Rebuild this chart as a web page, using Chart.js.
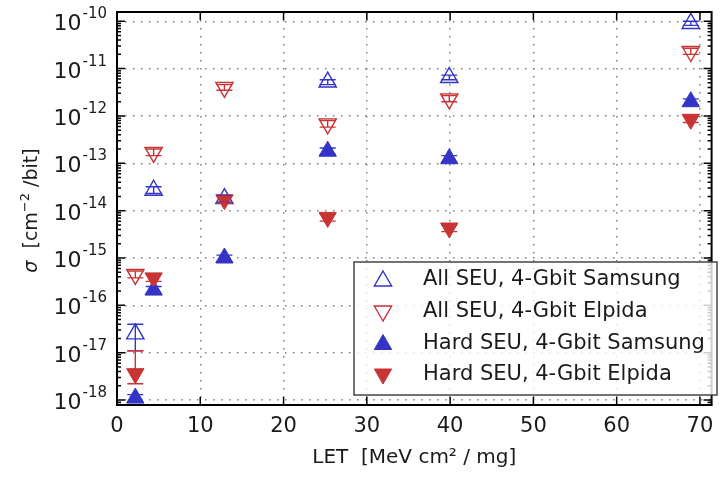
<!DOCTYPE html>
<html>
<head>
<meta charset="utf-8">
<script src="https://cdn.jsdelivr.net/npm/chart.js@4"></script>
<style>
  html, body { margin: 0; padding: 0; background: #fff; }
  #wrap { width: 723px; height: 482px; }
</style>
</head>
<body>
<div id="wrap"><canvas id="myChart"></canvas></div>
<script>
// LET values (MeV cm2 / mg)
const letValues = [2.2, 4.4, 12.9, 25.3, 39.9, 68.9];

// cross sections (cm^-2 / bit) and error bar bounds
const allSamsung   = [2.5e-17, 2.7e-14, 1.8e-14, 5.2e-12, 6.5e-12, 9.0e-11];
const allSamsungLo = [1.1e-17, 2.3e-14, 1.5e-14, 4.6e-12, 5.8e-12, 8.2e-11];
const allSamsungHi = [4.0e-17, 3.2e-14, 2.1e-14, 5.8e-12, 7.3e-12, 1.0e-10];

const allElpida   = [4.5e-16, 1.7e-13, 4.0e-12, 6.8e-13, 2.3e-12, 2.3e-11];
const allElpidaLo = [3.8e-16, 1.45e-13, 3.5e-12, 5.8e-13, 2.0e-12, 2.0e-11];
const allElpidaHi = [5.3e-16, 2.0e-13, 4.6e-12, 8.0e-13, 2.7e-12, 2.7e-11];

const hardSamsung   = [1.1e-18, 2.1e-16, 1.0e-15, 1.8e-13, 1.25e-13, 2.0e-12];
const hardSamsungLo = [0.9e-18, 1.8e-16, 0.85e-15, 1.55e-13, 1.05e-13, 1.7e-12];
const hardSamsungHi = [1.3e-18, 2.5e-16, 1.15e-15, 2.1e-13, 1.45e-13, 2.3e-12];

const hardElpida   = [3.6e-18, 3.8e-16, 1.7e-14, 7.2e-15, 4.3e-15, 8.5e-13];
const hardElpidaLo = [2.2e-18, 3.2e-16, 1.45e-14, 6.0e-15, 3.6e-15, 7.3e-13];
const hardElpidaHi = [1.1e-17, 4.5e-16, 2.0e-14, 8.5e-15, 5.0e-15, 1.0e-12];

const labels = [
  'All SEU, 4-Gbit Samsung',
  'All SEU, 4-Gbit Elpida',
  'Hard SEU, 4-Gbit Samsung',
  'Hard SEU, 4-Gbit Elpida'
];

const xTicks = [0, 10, 20, 30, 40, 50, 60, 70];
const yTickExps = [-18, -17, -16, -15, -14, -13, -12, -11, -10];

const BLUE = '#3434c6';
const RED = '#c83434';
const FONT = '"DejaVu Sans", sans-serif';

function pts(ys) {
  return letValues.map((x, i) => ({ x: x, y: ys[i] }));
}

function makeSet(label, ys, lo, hi, color, filled, down, order) {
  return {
    label: label,
    data: pts(ys),
    errLo: lo,
    errHi: hi,
    pointStyle: 'triangle',
    rotation: down ? 180 : 0,
    pointRadius: 10,
    pointHoverRadius: 10,
    borderColor: color,
    backgroundColor: filled ? color : 'rgba(0,0,0,0)',
    borderWidth: filled ? 1 : 1.4,
    showLine: false,
    order: order
  };
}

// error bars drawn through the scales
const errorBars = {
  id: 'errorBars',
  afterDatasetsDraw(chart) {
    const { ctx, chartArea, scales } = chart;
    ctx.save();
    ctx.beginPath();
    ctx.rect(chartArea.left, chartArea.top, chartArea.right - chartArea.left, chartArea.bottom - chartArea.top);
    ctx.clip();
    chart.data.datasets.forEach(ds => {
      ctx.strokeStyle = ds.borderColor;
      ctx.lineWidth = 1.4;
      ds.data.forEach((p, i) => {
        const px = scales.x.getPixelForValue(p.x);
        const y1 = scales.y.getPixelForValue(ds.errLo[i]);
        const y2 = scales.y.getPixelForValue(ds.errHi[i]);
        ctx.beginPath();
        ctx.moveTo(px, y1); ctx.lineTo(px, y2);
        ctx.moveTo(px - 8, y1); ctx.lineTo(px + 8, y1);
        ctx.moveTo(px - 8, y2); ctx.lineTo(px + 8, y2);
        ctx.stroke();
      });
    });
    ctx.restore();
  }
};

// frame, inward ticks, y labels, y title, legend
const decorations = {
  id: 'decorations',
  afterDraw(chart) {
    const { ctx, chartArea: a, scales } = chart;
    const sx = scales.x, sy = scales.y;
    ctx.save();
    ctx.strokeStyle = '#000';
    ctx.lineWidth = 1.5;
    ctx.beginPath();
    xTicks.forEach(v => {
      const px = sx.getPixelForValue(v);
      ctx.moveTo(px, a.bottom); ctx.lineTo(px, a.bottom - 8);
      ctx.moveTo(px, a.top); ctx.lineTo(px, a.top + 8);
    });
    yTickExps.forEach(e => {
      const py = sy.getPixelForValue(Math.pow(10, e));
      ctx.moveTo(a.left, py); ctx.lineTo(a.left + 8, py);
      ctx.moveTo(a.right, py); ctx.lineTo(a.right - 8, py);
    });
    for (let e = -19; e <= -10; e++) {
      for (let m = 2; m <= 9; m++) {
        const v = m * Math.pow(10, e);
        if (v < sy.min || v > sy.max) continue;
        const py = sy.getPixelForValue(v);
        ctx.moveTo(a.left, py); ctx.lineTo(a.left + 4, py);
        ctx.moveTo(a.right, py); ctx.lineTo(a.right - 4, py);
      }
    }
    ctx.stroke();

    ctx.lineWidth = 2;
    ctx.strokeRect(a.left, a.top, a.right - a.left, a.bottom - a.top);

    // y tick labels 10^n
    ctx.fillStyle = '#1a1a1a';
    ctx.textBaseline = 'alphabetic';
    ctx.textAlign = 'left';
    yTickExps.forEach(e => {
      const py = sy.getPixelForValue(Math.pow(10, e));
      const exp = String(e);
      ctx.font = '15px ' + FONT;
      const ew = ctx.measureText(exp).width;
      ctx.fillText(exp, 107 - ew, py - 3);
      ctx.font = '22px ' + FONT;
      const bw = ctx.measureText('10').width;
      ctx.fillText('10', 106 - ew - bw, py + 9);
    });

    // y title
    ctx.save();
    ctx.translate(37, (a.top + a.bottom) / 2 + 2);
    ctx.rotate(-Math.PI / 2);
    const parts = [
      { t: 'σ', f: 'italic 19px ' + FONT, dy: 0 },
      { t: '  [cm', f: '19px ' + FONT, dy: 0 },
      { t: '−2', f: '13px ' + FONT, dy: -8 },
      { t: ' /bit]', f: '19px ' + FONT, dy: 0 }
    ];
    let total = 0;
    parts.forEach(p => { ctx.font = p.f; p.w = ctx.measureText(p.t).width; total += p.w; });
    let cx = -total / 2;
    parts.forEach(p => { ctx.font = p.f; ctx.fillText(p.t, cx, p.dy); cx += p.w; });
    ctx.restore();

    // legend
    const lx = 354, ly = 262, lw = 363, lh = 133;
    ctx.fillStyle = 'rgba(255,255,255,0.8)';
    ctx.fillRect(lx, ly, lw, lh);
    ctx.strokeStyle = '#444';
    ctx.lineWidth = 1.5;
    ctx.strokeRect(lx, ly, lw, lh);
    const rows = [280, 312, 343.5, 375];
    chart.data.datasets.forEach((ds, i) => {
      ctx.save();
      ctx.strokeStyle = ds.borderColor;
      ctx.fillStyle = ds.backgroundColor;
      ctx.lineWidth = ds.borderWidth;
      Chart.helpers.drawPoint(ctx, { pointStyle: 'triangle', rotation: ds.rotation, radius: 10, borderWidth: ds.borderWidth }, 383, rows[i] + (ds.rotation ? -1 : 1));
      ctx.restore();
      ctx.fillStyle = '#1a1a1a';
      ctx.font = '21px ' + FONT;
      ctx.textBaseline = 'middle';
      ctx.fillText(ds.label, 423, rows[i]);
    });
    ctx.restore();
  }
};

const ctx = document.getElementById('myChart').getContext('2d');
const myChart = new Chart(ctx, {
  type: 'scatter',
  data: {
    datasets: [
      makeSet(labels[0], allSamsung, allSamsungLo, allSamsungHi, BLUE, false, false, 4),
      makeSet(labels[1], allElpida, allElpidaLo, allElpidaHi, RED, false, true, 3),
      makeSet(labels[2], hardSamsung, hardSamsungLo, hardSamsungHi, BLUE, true, false, 2),
      makeSet(labels[3], hardElpida, hardElpidaLo, hardElpidaHi, RED, true, true, 1)
    ]
  },
  plugins: [errorBars, decorations],
  options: {
    responsive: true,
    maintainAspectRatio: false,
    animation: false,
    layout: { padding: { top: 12, right: 1, left: 0, bottom: 0 } },
    plugins: {
      legend: { display: false },
      tooltip: { enabled: false }
    },
    scales: {
      x: {
        type: 'linear',
        min: 0,
        max: 71.4,
        afterBuildTicks: s => { s.ticks = xTicks.map(v => ({ value: v })); },
        afterFit: s => { s.height = 77; },
        grid: { color: '#808080', lineWidth: 1.5, drawTicks: false },
        border: { display: false, dash: [1.5, 6.5] },
        ticks: {
          color: '#1a1a1a',
          padding: 9,
          maxRotation: 0,
          font: { family: FONT, size: 21 }
        },
        title: {
          display: true,
          text: 'LET  [MeV cm² / mg]',
          color: '#1a1a1a',
          font: { family: FONT, size: 20 },
          padding: { top: 0, bottom: 12 }
        }
      },
      y: {
        type: 'logarithmic',
        min: 7.85e-19,
        max: 1.57e-10,
        afterBuildTicks: s => { s.ticks = yTickExps.map(e => ({ value: Math.pow(10, e) })); },
        afterFit: s => { s.width = 117; },
        grid: { color: '#808080', lineWidth: 1.5, drawTicks: false },
        border: { display: false, dash: [1.5, 6.5] },
        ticks: { display: false }
      }
    }
  }
});
</script>
</body>
</html>
